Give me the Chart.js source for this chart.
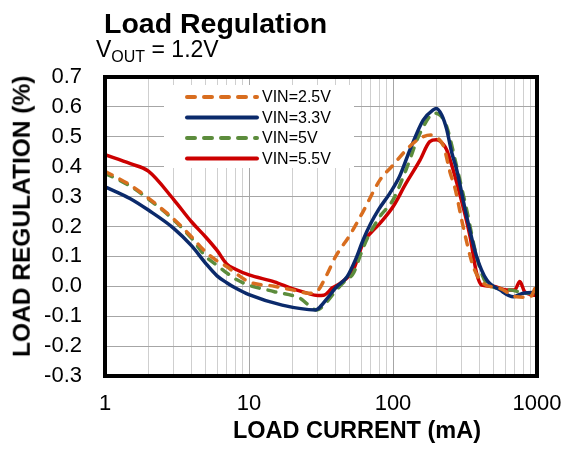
<!DOCTYPE html>
<html>
<head>
<meta charset="utf-8">
<script src="https://cdn.jsdelivr.net/npm/chart.js@4"></script>
<style>
  body { margin: 0; background: #fff; }
  #wrap { position: relative; width: 565px; height: 454px; font-family: "Liberation Sans", Arial, sans-serif; }
  #chart { position: absolute; left: 0; top: 0; }
  .txt { position: absolute; line-height: 1; color: #000; white-space: nowrap; }
  #title { left: 104px; top: 9px; font-size: 28.5px; font-weight: bold; }
  #subtitle { left: 96px; top: 38px; font-size: 23px; }
  #subtitle sub { font-size: 16px; vertical-align: -5px; line-height: 1; }
  #xtitle { left: 207px; width: 300px; text-align: center; top: 419px; font-size: 23.5px; font-weight: bold; }
  #ytitle { left: -128px; width: 300px; text-align: center; top: 204px; font-size: 24.5px; font-weight: bold; transform: rotate(-90deg); }
</style>
</head>
<body>
<div id="wrap">
  <canvas id="chart" width="565" height="454"></canvas>
  <div class="txt" id="title">Load Regulation</div>
  <div class="txt" id="subtitle">V<sub>OUT</sub> = 1.2V</div>
  <div class="txt" id="xtitle">LOAD CURRENT (mA)</div>
  <div class="txt" id="ytitle">LOAD REGULATION (%)</div>
</div>
<script>
// series labels
const seriesLabels = ["VIN=2.5V", "VIN=3.3V", "VIN=5V", "VIN=5.5V"];

// load current (mA) / load regulation (%)
const vin25X = [1, 1.5, 2, 3, 4, 5, 6, 7, 8, 10, 15, 20, 26, 29.5, 34, 40, 50, 62, 81, 100, 123, 154, 183, 205, 225, 250, 268, 307, 361, 424, 552, 720, 890, 1000];
const vin25Y = [0.385, 0.338, 0.295, 0.225, 0.165, 0.115, 0.085, 0.066, 0.045, 0.015, 0.0, -0.012, -0.023, -0.018, 0.03, 0.1, 0.17, 0.25, 0.355, 0.405, 0.455, 0.495, 0.506, 0.495, 0.467, 0.378, 0.333, 0.2, 0.066, 0.01, -0.007, -0.035, -0.037, 0.01];

const vin33X = [1, 1.5, 2, 3, 4, 5, 6, 7, 8, 10, 17, 29, 31, 35, 40, 48, 55, 62, 70, 79, 95, 111, 131, 162, 190, 200, 218, 236, 255, 277, 325, 381, 448, 552, 685, 800, 1000];
const vin33Y = [0.333, 0.293, 0.255, 0.194, 0.135, 0.077, 0.035, 0.012, -0.005, -0.028, -0.063, -0.079, -0.07, -0.04, -0.005, 0.032, 0.09, 0.155, 0.21, 0.255, 0.311, 0.367, 0.456, 0.556, 0.59, 0.595, 0.573, 0.525, 0.45, 0.389, 0.233, 0.099, 0.021, -0.012, -0.035, -0.023, -0.02];

const vin5X = [1, 1.5, 2, 3, 4, 5, 6, 7, 8, 10, 15, 22.6, 29.5, 35, 40, 47, 53, 60, 65.5, 81, 100, 123, 154, 195, 215, 236, 277, 325, 381, 448, 650, 850, 1000];
const vin5Y = [0.378, 0.335, 0.292, 0.222, 0.16, 0.1, 0.07, 0.045, 0.025, 0.004, -0.018, -0.04, -0.079, -0.05, -0.015, 0.02, 0.043, 0.11, 0.155, 0.233, 0.289, 0.389, 0.512, 0.579, 0.57, 0.534, 0.4, 0.255, 0.099, 0.01, -0.012, -0.023, -0.02];

const vin55X = [1, 1.5, 2, 3, 4, 5, 6, 7, 8, 10, 15, 20, 25, 30, 33, 38, 43, 53, 62, 81, 100, 123, 154, 180, 200, 225, 236, 290, 343, 381, 414, 495, 614, 700, 760, 820, 940, 1000];
const vin55Y = [0.44, 0.41, 0.385, 0.29, 0.215, 0.165, 0.12, 0.075, 0.058, 0.038, 0.015, -0.008, -0.022, -0.031, -0.03, -0.005, 0.01, 0.055, 0.144, 0.21, 0.266, 0.344, 0.422, 0.484, 0.49, 0.473, 0.456, 0.311, 0.166, 0.043, 0.004, 0.0, -0.012, -0.012, 0.016, -0.018, -0.029, -0.03];

// axis ticks
const xMajorTicks = [1, 10, 100, 1000];
const yMin = -0.3, yMax = 0.7, yStep = 0.1;

const colors = ["#D86D1F", "#0B2A6B", "#5C8C3C", "#CC0000"];
const dashes = [[8, 9], [], [8, 9], []];

function toPoints(xs, ys) {
  return xs.map((x, i) => ({ x: x, y: ys[i] }));
}
const seriesData = [toPoints(vin25X, vin25Y), toPoints(vin33X, vin33Y), toPoints(vin5X, vin5Y), toPoints(vin55X, vin55Y)];

// all grid positions 1..9 per decade
const xGrid = [];
xMajorTicks.forEach((m, i) => {
  if (i === xMajorTicks.length - 1) { xGrid.push(m); return; }
  for (let k = 1; k <= 9; k++) xGrid.push(k * m);
});

const FONT = '"Liberation Sans", Arial, sans-serif';

// legend box inside the plot, drawn over the grid
const insideLegend = {
  id: 'insideLegend',
  beforeDatasetsDraw(chart) {
    const ctx = chart.ctx;
    const a = chart.chartArea;
    const bx = a.left + 59, by = a.top + 8;
    ctx.save();
    ctx.fillStyle = '#fff';
    ctx.fillRect(bx, by, 190, 83);
    ctx.font = '16px ' + FONT;
    ctx.textBaseline = 'middle';
    chart.data.datasets.forEach((ds, i) => {
      const y = by + 12 + i * 20.5;
      ctx.beginPath();
      ctx.strokeStyle = ds.borderColor;
      ctx.lineWidth = 4;
      ctx.lineCap = 'round';
      ctx.setLineDash(ds.borderDash || []);
      ctx.moveTo(bx + 23, y);
      ctx.lineTo(bx + 93, y);
      ctx.stroke();
      ctx.setLineDash([]);
      ctx.fillStyle = '#000';
      ctx.fillText(ds.label, bx + 98, y + 1);
    });
    ctx.restore();
  },
  afterDatasetsDraw(chart) {
    const ctx = chart.ctx;
    const a = chart.chartArea;
    ctx.save();
    ctx.strokeStyle = '#000';
    ctx.lineWidth = 4;
    ctx.strokeRect(a.left, a.top, a.right - a.left, a.bottom - a.top);
    ctx.restore();
  }
};

new Chart(document.getElementById('chart'), {
  type: 'line',
  data: {
    datasets: seriesLabels.map((label, i) => ({
      label: label,
      data: seriesData[i],
      borderColor: colors[i],
      backgroundColor: colors[i],
      borderWidth: 3.5,
      borderDash: dashes[i],
      borderCapStyle: 'round',
      borderJoinStyle: 'round',
      pointRadius: 0,
      cubicInterpolationMode: 'monotone',
      fill: false
    }))
  },
  options: {
    responsive: false,
    animation: false,
    events: [],
    layout: { padding: { top: 77, right: 28, left: 0, bottom: 0 } },
    plugins: { legend: { display: false }, tooltip: { enabled: false } },
    scales: {
      x: {
        type: 'logarithmic',
        min: 1,
        max: 1000,
        afterFit(s) { s.height = 78; s.paddingLeft = 0; s.paddingRight = 0; },
        afterBuildTicks(s) { s.ticks = xGrid.map(v => ({ value: v, major: xMajorTicks.includes(v) })); },
        border: { display: false },
        grid: {
          drawTicks: false,
          color: c => (c.tick && xMajorTicks.includes(c.tick.value)) ? '#a6a6a6' : '#cfcfcf',
          lineWidth: 1
        },
        ticks: {
          autoSkip: false,
          maxRotation: 0,
          padding: 15,
          color: '#000',
          font: { family: FONT, size: 22 },
          callback: v => xMajorTicks.includes(v) ? String(v) : ''
        }
      },
      y: {
        min: yMin,
        max: yMax,
        afterFit(s) { s.width = 105; s.paddingTop = 0; s.paddingBottom = 0; },
        border: { display: false },
        grid: { drawTicks: false, color: '#a6a6a6', lineWidth: 1 },
        ticks: {
          stepSize: yStep,
          padding: 23,
          color: '#000',
          font: { family: FONT, size: 22 },
          callback: v => Math.abs(v) < 1e-9 ? '0.0' : v.toFixed(1)
        }
      }
    }
  },
  plugins: [insideLegend]
});
</script>
</body>
</html>
